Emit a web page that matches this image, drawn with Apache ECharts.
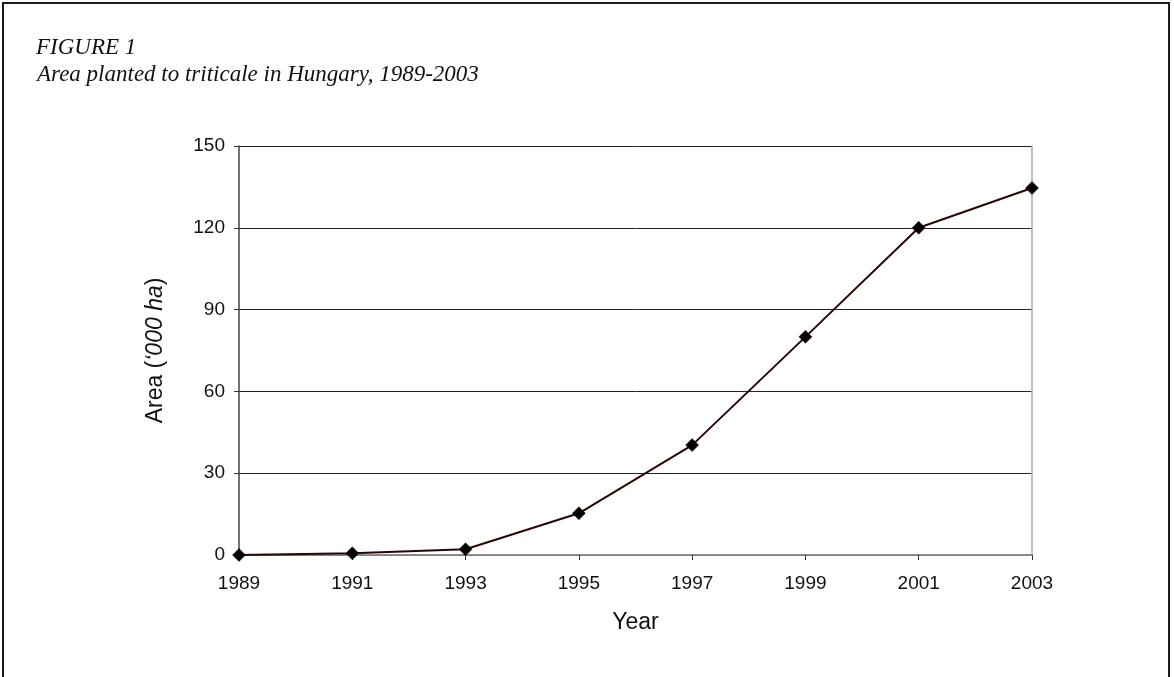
<!DOCTYPE html>
<html>
<head>
<meta charset="utf-8">
<style>
  html, body { margin: 0; padding: 0; background: #fff; }
  #chart { width: 1174px; height: 677px; }
</style>
<script src="https://cdn.jsdelivr.net/npm/echarts@6/dist/echarts.min.js"></script>
</head>
<body>
<div id="chart"></div>
<script>
// Triticale area in Hungary, thousand hectares
const years = ['1989', '1991', '1993', '1995', '1997', '1999', '2001', '2003'];
const areaThousandHa = [0, 0.6, 2.1, 15.3, 40.3, 80, 120, 134.6];
const yTicks = [0, 30, 60, 90, 120, 150];

const chart = echarts.init(document.getElementById('chart'), null, { renderer: 'canvas' });

const sans = 'Arial, "Liberation Sans", sans-serif';
const serif = '"Times New Roman", "Liberation Serif", serif';

chart.setOption({
  animation: false,
  backgroundColor: '#fff',
  graphic: [
    {
      type: 'rect',
      shape: { x: 3, y: 3, width: 1166, height: 700 },
      style: { fill: 'none', stroke: '#1a1a1a', lineWidth: 2 },
      silent: true
    },
    {
      type: 'text',
      left: 36, top: 36,
      style: { text: 'FIGURE 1', font: 'italic 23px ' + serif, fill: '#111' }
    },
    {
      type: 'text',
      left: 37, top: 63,
      style: { text: 'Area planted to triticale in Hungary, 1989-2003', font: 'italic 23px ' + serif, fill: '#111' }
    }
  ],
  grid: { left: 239, right: 142, top: 146, bottom: 122, containLabel: false },
  xAxis: [
    {
      type: 'category',
      data: years,
      boundaryGap: false,
      name: 'Year',
      nameLocation: 'middle',
      nameGap: 56,
      nameTextStyle: { fontFamily: sans, fontSize: 23, color: '#111' },
      axisLine: { show: true, lineStyle: { color: '#444', width: 1.5 } },
      axisTick: { show: true, alignWithLabel: true, length: 5, inside: false, lineStyle: { color: '#333' } },
      axisLabel: { fontFamily: sans, fontSize: 19, color: '#111', margin: 19, interval: 0 },
      splitLine: { show: false }
    },
    {
      type: 'category',
      data: years,
      boundaryGap: false,
      position: 'top',
      axisLine: { show: true, lineStyle: { color: '#999', width: 1.5 } },
      axisTick: { show: false },
      axisLabel: { show: false }
    }
  ],
  yAxis: [
    {
      type: 'value',
      min: 0, max: 150, interval: 30,
      name: 'Area ({i|‘000 ha})',
      nameLocation: 'middle',
      nameGap: 72,
      nameRotate: 90,
      nameTextStyle: {
        fontFamily: sans, fontSize: 23, color: '#111',
        rich: { i: { fontFamily: sans, fontSize: 23, fontStyle: 'italic', color: '#111' } }
      },
      axisLine: { show: true, lineStyle: { color: '#444', width: 1.5 } },
      axisTick: { show: true, length: 5, lineStyle: { color: '#333' } },
      axisLabel: {
        fontFamily: sans, fontSize: 19, color: '#111', margin: 14,
        formatter: v => (yTicks.includes(v) ? String(v) : '')
      },
      splitLine: { show: true, lineStyle: { color: '#222', width: 1 } }
    },
    {
      type: 'value',
      min: 0, max: 150, interval: 30,
      position: 'right',
      axisLine: { show: true, lineStyle: { color: '#aaa', width: 1.5 } },
      axisTick: { show: false },
      axisLabel: { show: false },
      splitLine: { show: false }
    }
  ],
  series: [
    {
      type: 'line',
      data: areaThousandHa,
      symbol: 'diamond',
      symbolSize: 13,
      showAllSymbol: true,
      lineStyle: { color: '#2a0505', width: 2 },
      itemStyle: { color: '#000', borderColor: '#2a0505', borderWidth: 0.5 },
      z: 5
    }
  ]
});
</script>
</body>
</html>
